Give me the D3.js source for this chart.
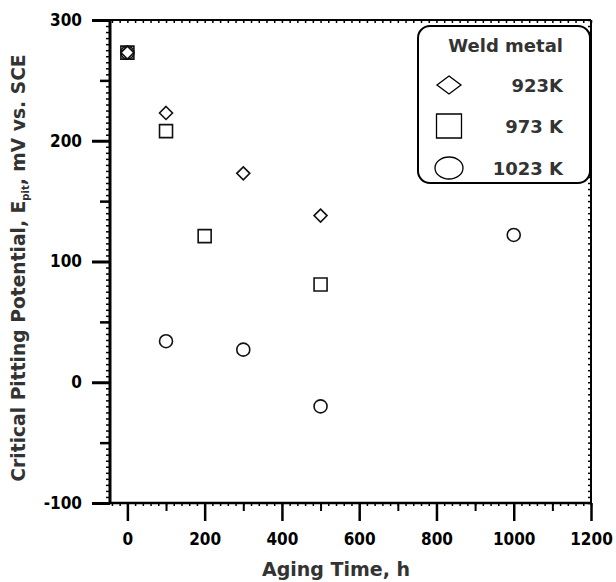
<!DOCTYPE html>
<html>
<head>
<meta charset="utf-8">
<script src="https://cdn.jsdelivr.net/npm/d3@7"></script>
<style>
  html, body { margin: 0; padding: 0; background: #fff; }
  svg { display: block; }
</style>
</head>
<body>
<div id="chart"></div>
<script>
// Critical pitting potential of weld metal vs. aging time, per aging temperature
const hours923 = [0, 100, 300, 500];
const epit923 = [273, 223, 173, 138];

const hours973 = [0, 100, 200, 500];
const epit973 = [273, 208, 121, 81];

const hours1023 = [0, 100, 300, 500, 1000];
const epit1023 = [273, 34, 27, -20, 122];

const xTicks = [0, 200, 400, 600, 800, 1000, 1200];
const yTicks = [-100, 0, 100, 200, 300];
const legendTitle = "Weld metal";
const seriesLabels = ["923K", "973 K", "1023 K"];

const W = 616, H = 582;
const plot = { left: 110, right: 591, top: 20, bottom: 503 };

const svg = d3.select("#chart").append("svg")
  .attr("width", W).attr("height", H);

const x = d3.scaleLinear().domain([-45, 1200]).range([plot.left, plot.right]);
const y = d3.scaleLinear().domain([-100, 300]).range([plot.bottom, plot.top]);

const tickFont = "'DejaVu Sans Condensed', 'DejaVu Sans', sans-serif";
const titleFont = "'DejaVu Sans', Verdana, sans-serif";
const intLabel = d => String(d); // plain hyphen-minus for negatives

function styleAxis(g, width) {
  g.select(".domain").remove();
  g.selectAll(".tick line").attr("stroke", "#000").attr("stroke-width", width);
  g.selectAll(".tick text")
    .attr("fill", "#000")
    .style("font-family", tickFont)
    .style("font-weight", "bold")
    .style("font-size", "17px");
}

// frame: top and right edges
svg.append("line").attr("x1", plot.left).attr("x2", plot.right)
  .attr("y1", plot.top).attr("y2", plot.top).attr("stroke", "#000").attr("stroke-width", 2);
svg.append("line").attr("x1", plot.right).attr("x2", plot.right)
  .attr("y1", plot.top).attr("y2", plot.bottom).attr("stroke", "#000").attr("stroke-width", 2);

// fine inner ticks on the top and right edges
svg.append("g").attr("transform", `translate(0,${plot.top})`)
  .call(d3.axisTop(x).tickValues(d3.range(-40, 1201, 20)).tickSize(-3).tickSizeOuter(0).tickFormat(""))
  .call(g => styleAxis(g, 1.5));
svg.append("g").attr("transform", `translate(${plot.right},0)`)
  .call(d3.axisRight(y).tickValues(d3.range(-100, 301, 5)).tickSize(-3).tickSizeOuter(0).tickFormat(""))
  .call(g => styleAxis(g, 1.5));

// bottom axis: fine, minor and major ticks
svg.append("g").attr("transform", `translate(0,${plot.bottom})`)
  .call(d3.axisBottom(x).tickValues(d3.range(-40, 1201, 20)).tickSize(3).tickSizeOuter(0).tickFormat(""))
  .call(g => styleAxis(g, 1.5));
svg.append("g").attr("transform", `translate(0,${plot.bottom})`)
  .call(d3.axisBottom(x).tickValues(d3.range(100, 1200, 200)).tickSize(8).tickSizeOuter(0).tickFormat(""))
  .call(g => styleAxis(g, 2));
svg.append("g").attr("transform", `translate(0,${plot.bottom})`)
  .call(d3.axisBottom(x).tickValues(xTicks).tickSize(18).tickPadding(12).tickSizeOuter(0).tickFormat(intLabel))
  .call(g => styleAxis(g, 2.5));

// left axis: fine, minor and major ticks
svg.append("g").attr("transform", `translate(${plot.left},0)`)
  .call(d3.axisLeft(y).tickValues(d3.range(-100, 301, 5)).tickSize(4).tickSizeOuter(0).tickFormat(""))
  .call(g => styleAxis(g, 1.5));
svg.append("g").attr("transform", `translate(${plot.left},0)`)
  .call(d3.axisLeft(y).tickValues([-50, 50, 150, 250]).tickSize(10).tickSizeOuter(0).tickFormat(""))
  .call(g => styleAxis(g, 2.5));
svg.append("g").attr("transform", `translate(${plot.left},0)`)
  .call(d3.axisLeft(y).tickValues(yTicks).tickSize(18).tickPadding(10).tickSizeOuter(0).tickFormat(intLabel))
  .call(g => styleAxis(g, 3));

// axis lines
svg.append("line").attr("x1", plot.left).attr("x2", plot.right)
  .attr("y1", plot.bottom).attr("y2", plot.bottom).attr("stroke", "#000").attr("stroke-width", 2.5);
svg.append("line").attr("x1", plot.left).attr("x2", plot.left)
  .attr("y1", plot.top).attr("y2", plot.bottom + 1).attr("stroke", "#000").attr("stroke-width", 3);

// marker shapes
const diamond = (w, h) => `M0,${-h / 2}L${w / 2},0L0,${h / 2}L${-w / 2},0Z`;
const square = (w, h) => `M${-w / 2},${-h / 2}h${w}v${h}h${-w}Z`;
const ellipse = (w, h) => {
  const rx = w / 2, ry = h / 2;
  return `M${-rx},0A${rx},${ry} 0 1,0 ${rx},0A${rx},${ry} 0 1,0 ${-rx},0Z`;
};

const series = [
  { xs: hours923, ys: epit923, shape: diamond },
  { xs: hours973, ys: epit973, shape: square },
  { xs: hours1023, ys: epit1023, shape: ellipse }
];

const markers = svg.append("g");
series.forEach(s => {
  const pts = s.xs.map((h, i) => ({ h, e: s.ys[i] }));
  markers.selectAll(null).data(pts).enter().append("path")
    .attr("transform", d => `translate(${x(d.h)},${y(d.e)})`)
    .attr("d", s.shape(13, 13))
    .attr("fill", "none")
    .attr("stroke", "#111")
    .attr("stroke-width", 1.6);
});

// legend
const lg = svg.append("g");
lg.append("rect")
  .attr("x", 418).attr("y", 26).attr("width", 172).attr("height", 157)
  .attr("rx", 12).attr("ry", 12)
  .attr("fill", "#fff").attr("stroke", "#000").attr("stroke-width", 2);
lg.append("text")
  .attr("x", 563).attr("y", 52)
  .attr("text-anchor", "end")
  .attr("fill", "#333")
  .style("font-family", titleFont).style("font-weight", "bold").style("font-size", "18px")
  .text(legendTitle);
const legendRows = [
  { cy: 85, shape: diamond(24, 18), label: seriesLabels[0] },
  { cy: 126, shape: square(25, 24), label: seriesLabels[1] },
  { cy: 168, shape: ellipse(28, 22), label: seriesLabels[2] }
];
legendRows.forEach(r => {
  lg.append("path").attr("transform", `translate(449,${r.cy})`)
    .attr("d", r.shape).attr("fill", "none").attr("stroke", "#000").attr("stroke-width", 1.3);
  lg.append("text")
    .attr("x", 563).attr("y", r.cy + 7)
    .attr("text-anchor", "end")
    .attr("fill", "#333")
    .style("font-family", titleFont).style("font-weight", "bold").style("font-size", "18px")
    .text(r.label);
});

// axis titles
svg.append("text")
  .attr("x", 336).attr("y", 576)
  .attr("text-anchor", "middle")
  .attr("fill", "#333")
  .style("font-family", titleFont).style("font-weight", "bold").style("font-size", "19px")
  .text("Aging Time, h");

const yTitle = svg.append("text")
  .attr("transform", "translate(25,268) rotate(-90)")
  .attr("text-anchor", "middle")
  .attr("fill", "#333")
  .style("font-family", titleFont).style("font-weight", "bold").style("font-size", "18.7px");
yTitle.append("tspan").text("Critical Pitting Potential, E");
yTitle.append("tspan").attr("dy", 4).style("font-size", "10px").text("pit");
yTitle.append("tspan").attr("dy", -4).text(", mV vs. SCE");
</script>
</body>
</html>
